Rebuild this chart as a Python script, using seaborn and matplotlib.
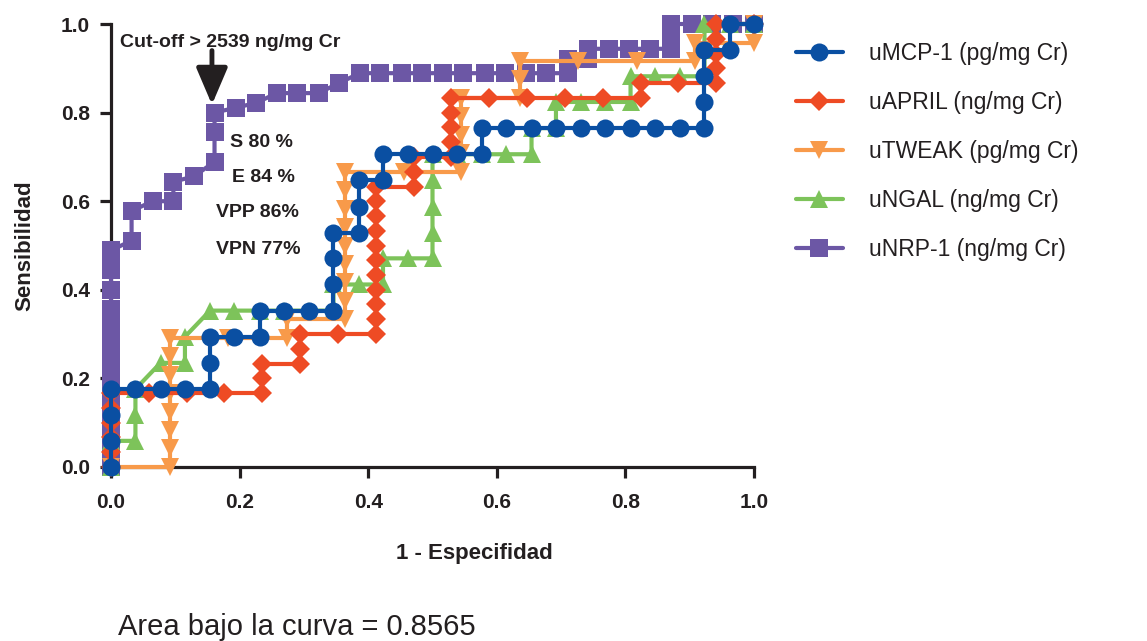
import matplotlib
matplotlib.use("Agg")
import matplotlib.pyplot as plt
from matplotlib.lines import Line2D
import seaborn as sns
import pandas as pd

# ---------------- data ----------------
mcp_x = [0, 0, 0, 0, 0.038, 0.077, 0.115, 0.154, 0.154, 0.154, 0.192, 0.231, 0.231, 0.269,
         0.308, 0.346, 0.346, 0.346, 0.346, 0.385, 0.385, 0.385, 0.423, 0.423, 0.462, 0.5,
         0.538, 0.577, 0.577, 0.615, 0.654, 0.692, 0.731, 0.769, 0.808, 0.846, 0.885, 0.923,
         0.923, 0.923, 0.923, 0.962, 0.962, 1.0]
mcp_y = [0, 0.059, 0.118, 0.176, 0.176, 0.176, 0.176, 0.176, 0.235, 0.294, 0.294, 0.294, 0.353,
         0.353, 0.353, 0.353, 0.412, 0.471, 0.529, 0.529, 0.588, 0.647, 0.647, 0.706, 0.706,
         0.706, 0.706, 0.706, 0.765, 0.765, 0.765, 0.765, 0.765, 0.765, 0.765, 0.765, 0.765,
         0.765, 0.824, 0.882, 0.941, 0.941, 1.0, 1.0]

april_x = [0, 0, 0, 0, 0, 0, 0.059, 0.118, 0.176, 0.235, 0.235, 0.235, 0.294, 0.294, 0.294,
           0.353, 0.412, 0.412, 0.412, 0.412, 0.412, 0.412, 0.412, 0.412, 0.412, 0.412, 0.412,
           0.471, 0.471, 0.471, 0.529, 0.529, 0.529, 0.529, 0.529, 0.588, 0.647, 0.706, 0.765,
           0.824, 0.824, 0.882, 0.941, 0.941, 0.941, 0.941, 0.941, 1.0]
april_y = [0, 0.033, 0.067, 0.1, 0.133, 0.167, 0.167, 0.167, 0.167, 0.167, 0.2, 0.233, 0.233,
           0.267, 0.3, 0.3, 0.3, 0.333, 0.367, 0.4, 0.433, 0.467, 0.5, 0.533, 0.567, 0.6, 0.633,
           0.633, 0.667, 0.7, 0.7, 0.733, 0.767, 0.8, 0.833, 0.833, 0.833, 0.833, 0.833, 0.833,
           0.867, 0.867, 0.867, 0.9, 0.933, 0.967, 1.0, 1.0]

tweak_x = [0, 0.091, 0.091, 0.091, 0.091, 0.091, 0.091, 0.091, 0.091, 0.182, 0.273, 0.273,
           0.364, 0.364, 0.364, 0.364, 0.364, 0.364, 0.364, 0.364, 0.364, 0.455, 0.545, 0.545,
           0.545, 0.545, 0.545, 0.636, 0.636, 0.636, 0.727, 0.818, 0.909, 0.909, 1.0, 1.0]
tweak_y = [0, 0, 0.042, 0.083, 0.125, 0.167, 0.208, 0.25, 0.292, 0.292, 0.292, 0.333, 0.333,
           0.375, 0.417, 0.458, 0.5, 0.542, 0.583, 0.625, 0.667, 0.667, 0.667, 0.708, 0.75,
           0.792, 0.833, 0.833, 0.875, 0.917, 0.917, 0.917, 0.917, 0.958, 0.958, 1.0]

ngal_x = [0, 0, 0.038, 0.038, 0.038, 0.077, 0.115, 0.115, 0.154, 0.192, 0.231, 0.269, 0.308,
          0.346, 0.346, 0.385, 0.423, 0.423, 0.462, 0.5, 0.5, 0.5, 0.5, 0.5, 0.538, 0.577,
          0.615, 0.654, 0.654, 0.692, 0.692, 0.731, 0.769, 0.808, 0.808, 0.846, 0.885, 0.923,
          0.923, 0.923, 0.962, 1.0]
ngal_y = [0, 0.059, 0.059, 0.118, 0.176, 0.235, 0.235, 0.294, 0.353, 0.353, 0.353, 0.353,
          0.353, 0.353, 0.412, 0.412, 0.412, 0.471, 0.471, 0.471, 0.529, 0.588, 0.647, 0.706,
          0.706, 0.706, 0.706, 0.706, 0.765, 0.765, 0.824, 0.824, 0.824, 0.824, 0.882, 0.882,
          0.882, 0.882, 0.941, 1.0, 1.0, 1.0]

nrp_x = [0, 0, 0, 0, 0, 0, 0, 0, 0, 0, 0, 0, 0, 0, 0, 0, 0, 0, 0, 0, 0,
         0.032, 0.032, 0.065, 0.097, 0.097, 0.129, 0.161, 0.161, 0.161, 0.194, 0.226, 0.258,
         0.29, 0.323, 0.355, 0.387, 0.419, 0.452, 0.484, 0.516, 0.548, 0.581, 0.613, 0.645,
         0.677, 0.71, 0.71, 0.742, 0.742, 0.774, 0.806, 0.839, 0.871, 0.871, 0.871, 0.903,
         0.935, 0.968, 1.0]
nrp_y = [0, 0.022, 0.044, 0.067, 0.089, 0.111, 0.133, 0.156, 0.178, 0.2, 0.222, 0.244, 0.267,
         0.289, 0.311, 0.333, 0.356, 0.4, 0.444, 0.467, 0.489,
         0.511, 0.578, 0.6, 0.6, 0.644, 0.656, 0.689, 0.756, 0.8, 0.811, 0.822, 0.844,
         0.844, 0.844, 0.867, 0.889, 0.889, 0.889, 0.889, 0.889, 0.889, 0.889, 0.889, 0.889,
         0.889, 0.889, 0.922, 0.922, 0.944, 0.944, 0.944, 0.944, 0.944, 0.967, 1.0, 1.0,
         1.0, 1.0, 1.0]

labels = ["uMCP-1 (pg/mg Cr)", "uAPRIL (ng/mg Cr)", "uTWEAK (pg/mg Cr)",
          "uNGAL (ng/mg Cr)", "uNRP-1 (ng/mg Cr)"]
tick_values = [0.0, 0.2, 0.4, 0.6, 0.8, 1.0]
tick_labels = ["0.0", "0.2", "0.4", "0.6", "0.8", "1.0"]

# ---------------- styling ----------------
sns.set_style("ticks")
plt.rcParams["font.family"] = ["Liberation Sans", "DejaVu Sans"]

colors = ["#0A4FA2", "#EE4B24", "#F89A4A", "#7DC35A", "#6C57A5"]
markers = ["o", "D", "v", "^", "s"]
msizes = [13, 10, 13, 13, 12.5]
zorders = [7, 6, 5, 4, 3]
series = [(mcp_x, mcp_y), (april_x, april_y), (tweak_x, tweak_y),
          (ngal_x, ngal_y), (nrp_x, nrp_y)]
ink = "#231F20"

fig = plt.figure(figsize=(11.47, 6.41), dpi=100)
ax = fig.add_axes([111 / 1147, 1 - 467 / 641, 643 / 1147, 443 / 641])

# draw back-to-front
for i in reversed(range(5)):
    xs, ys = series[i]
    df = pd.DataFrame({"x": xs, "y": ys})
    sns.lineplot(data=df, x="x", y="y", sort=False, estimator=None, ax=ax,
                 color=colors[i], marker=markers[i], markersize=msizes[i],
                 markeredgewidth=0, linewidth=3, zorder=zorders[i], clip_on=False)

ax.set_xlim(0, 1)
ax.set_ylim(0, 1)
ax.set_xticks(tick_values)
ax.set_xticklabels(tick_labels)
ax.set_yticks(tick_values)
ax.set_yticklabels(tick_labels)
for s in ["top", "right"]:
    ax.spines[s].set_visible(False)
for s in ["left", "bottom"]:
    ax.spines[s].set_linewidth(2.3)
    ax.spines[s].set_color(ink)
ax.tick_params(axis="both", direction="out", length=8, width=2.3, color=ink,
               labelsize=15, labelcolor=ink)
ax.tick_params(axis="x", pad=11)
ax.tick_params(axis="y", pad=7)
for lab in ax.get_xticklabels() + ax.get_yticklabels():
    lab.set_fontweight("bold")

ax.set_xlabel("1 - Especifidad", fontsize=16, fontweight="bold", color=ink)
ax.set_ylabel("Sensibilidad", fontsize=16, fontweight="bold", color=ink)
ax.xaxis.set_label_coords(0.565, -0.172)
ax.yaxis.set_label_coords(-0.118, 0.5)

# annotations
ax.text(0.014, 0.958, "Cut-off > 2539 ng/mg Cr", fontsize=14, fontweight="bold",
        color=ink, ha="left", va="center", zorder=10)
ax.annotate("", xy=(0.157, 0.818), xytext=(0.157, 0.94),
            arrowprops=dict(arrowstyle="-|>,head_length=0.75,head_width=0.32",
                            mutation_scale=30, lw=3.5, color=ink,
                            shrinkA=0, shrinkB=0), zorder=10)
ax.text(0.185, 0.733, "S 80 %", fontsize=14, fontweight="bold", color=ink,
        ha="left", va="center", zorder=10)
ax.text(0.188, 0.654, "E 84 %", fontsize=14, fontweight="bold", color=ink,
        ha="left", va="center", zorder=10)
ax.text(0.163, 0.575, "VPP 86%", fontsize=14, fontweight="bold", color=ink,
        ha="left", va="center", zorder=10)
ax.text(0.163, 0.492, "VPN 77%", fontsize=14, fontweight="bold", color=ink,
        ha="left", va="center", zorder=10)

# legend
handles = [Line2D([0], [0], color=colors[i], marker=markers[i], markersize=msizes[i],
                  markeredgewidth=0, linewidth=3) for i in range(5)]
fig.legend(handles, labels, loc="upper left", bbox_to_anchor=(796 / 1147, 1 - 42 / 641),
           frameon=False, fontsize=16.5, handlelength=2.05, handletextpad=1.15,
           labelspacing=1.13, borderpad=0, borderaxespad=0, labelcolor=ink)

fig.text(118 / 1147, 1 - 627 / 641, "Area bajo la curva = 0.8565", fontsize=21,
         color=ink, ha="left", va="center")

fig.savefig("out.png", dpi=100)
